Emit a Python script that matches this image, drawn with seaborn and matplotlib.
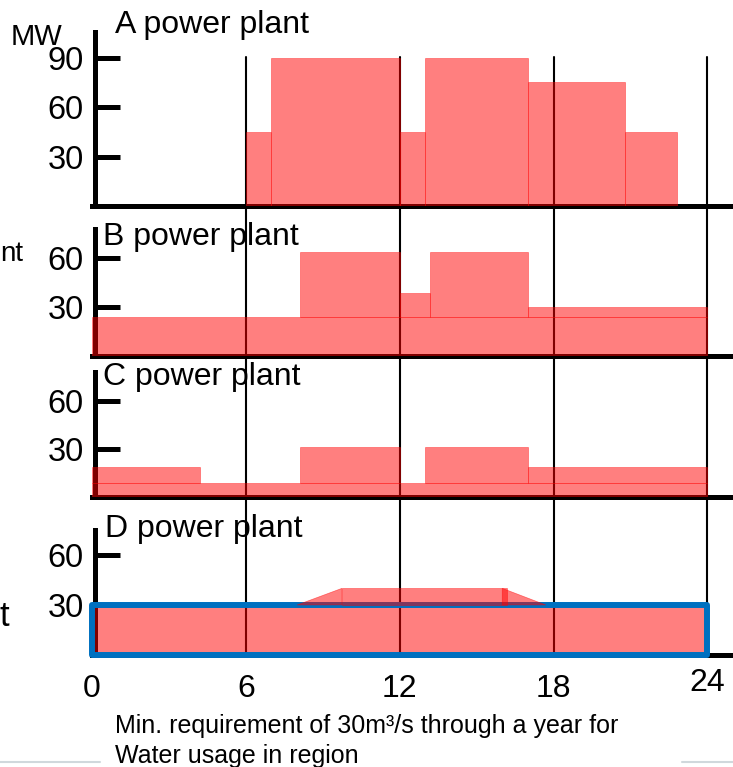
import matplotlib
matplotlib.use('Agg')
import matplotlib.pyplot as plt
import matplotlib.transforms as mtransforms
from matplotlib.patches import Rectangle, Polygon
from matplotlib.lines import Line2D
import seaborn as sns

sns.set_theme(style='white')
plt.rcParams['font.family'] = ['Liberation Sans', 'DejaVu Sans']

# ---- data (hour of day -> MW) ----
hour_ticks = [0, 6, 12, 18, 24]
grid_hours = [6, 12, 18, 24]

# A: single layer of blocks
a_edges = [6, 7, 12, 13, 17, 20.8, 22.8]
a_mw = [45, 90, 45, 90, 75, 45]
a_yticks = [30, 60, 90]

# B: base load all day + blocks on top (totals)
b_base = 24
b_edges = [8.1, 12, 13.2, 17, 24]
b_mw = [64, 39, 64, 30]
b_yticks = [30, 60]

# C: base load all day + blocks on top (totals)
c_base = 9
c_edges = [0, 4.2, 8.1, 12, 13, 17, 24]
c_mw = [19, 9, 31, 9, 31, 19]
c_yticks = [30, 60]

# D: flat 30 MW + trapezoid on top
d_base = 30
d_peak = 40
d_ramp_up = [8.0, 9.75]
d_flat = [9.75, 16.2]
d_ramp_down = [16.0, 17.7]
d_yticks = [30, 60]

RED = 'red'
fig = plt.figure(figsize=(7.33, 7.67), dpi=100)
H = 767.0


def make_ax(top_px, bottom_px, ytop, yticks):
    ax = fig.add_axes([92 / 733, 1 - bottom_px / H, 1 - 92 / 733, (bottom_px - top_px) / H])
    ax.set_facecolor('none')
    ax.set_xlim(0, 25)
    ax.set_ylim(0, ytop)
    sns.despine(ax=ax)
    for s in ['left', 'bottom']:
        ax.spines[s].set_linewidth(3.6)
        ax.spines[s].set_color('black')
    ax.spines['left'].set_position(('data', 0.12))
    ax.set_yticks(yticks)
    ax.set_xticks([])
    ax.tick_params(axis='y', left=True, direction='in', length=18, width=3.6,
                   color='black', labelsize=23.5, pad=8, labelcolor='black')
    ax.grid(False)
    return ax


def blocks(ax, edges, totals, base=0):
    for i in range(len(totals)):
        h = totals[i] - base
        if h <= 0:
            continue
        ax.bar(edges[i], h, width=edges[i + 1] - edges[i], bottom=base, align='edge',
               color=RED, alpha=0.5, edgecolor=RED, linewidth=0.5, zorder=3)


axA = make_ax(32, 206, 105.5, a_yticks)
blocks(axA, a_edges, a_mw)

axB = make_ax(229, 356, 78, b_yticks)
blocks(axB, [0, 24], [b_base])
blocks(axB, b_edges, b_mw, base=b_base)

axC = make_ax(372, 497, 78, c_yticks)
blocks(axC, [0, 24], [c_base])
blocks(axC, c_edges, c_mw, base=c_base)

axD = make_ax(530, 655, 75, d_yticks)
blocks(axD, [0, 24], [d_base])
axD.add_patch(Rectangle((0, 0), 24, d_base, fill=False, edgecolor='#0070C0', linewidth=4.3,
                        joinstyle='round', zorder=4, clip_on=False))
axD.add_patch(Polygon([(d_ramp_up[0], d_base), (d_ramp_up[1], d_peak), (d_ramp_up[1], d_base)],
                      facecolor=RED, edgecolor=RED, alpha=0.5, linewidth=0.5, zorder=5))
blocks(axD, d_flat, [d_peak], base=d_base)
axD.patches[-1].set_zorder(5)
axD.add_patch(Polygon([(d_ramp_down[0], d_base), (d_ramp_down[0], d_peak), (d_ramp_down[1], d_base)],
                      facecolor=RED, edgecolor=RED, alpha=0.5, linewidth=0.5, zorder=5))
axD.set_xticks(hour_ticks)
axD.set_xticklabels([str(h) for h in hour_ticks])
axD.tick_params(axis='x', bottom=False, labelsize=23, pad=8, labelcolor='black')
axD.get_xticklabels()[-1].set_y(0.05)

# hour grid lines running through all panels
tr = mtransforms.blended_transform_factory(axA.transData, fig.transFigure)
for h in grid_hours:
    fig.add_artist(Line2D([h, h], [1 - 57 / H, 1 - 655 / H], transform=tr,
                          color='black', linewidth=1.5, zorder=-1))

# panel titles
for txt, x, yb in [('A power plant', 115, 33), ('B power plant', 103, 245),
                   ('C power plant', 103, 385), ('D power plant', 105, 537)]:
    fig.text(x / 733, 1 - yb / H, txt, fontsize=23, va='baseline', ha='left', color='black')

fig.text(11 / 733, 1 - 45 / H, 'MW', fontsize=21, va='baseline', color='black')
fig.text(0, 1 - 261 / H, 'nt', fontsize=20, va='baseline', color='black')
fig.text(0, 1 - 626 / H, 't', fontsize=25, va='baseline', color='black')

fig.text(115 / 733, 1 - 733 / H, 'Min. requirement of 30m\u00b3/s through a year for',
         fontsize=18, va='baseline', color='black')
fig.text(115 / 733, 1 - 763 / H, 'Water usage in region', fontsize=18, va='baseline', color='black')

# slide divider remnants
for x0, x1 in [(0, 100), (682, 733)]:
    fig.add_artist(Line2D([x0 / 733, x1 / 733], [1 - 762 / H, 1 - 762 / H],
                          transform=fig.transFigure, color='#d0d8dc', linewidth=1.5))

fig.savefig('out.png', dpi=100)
